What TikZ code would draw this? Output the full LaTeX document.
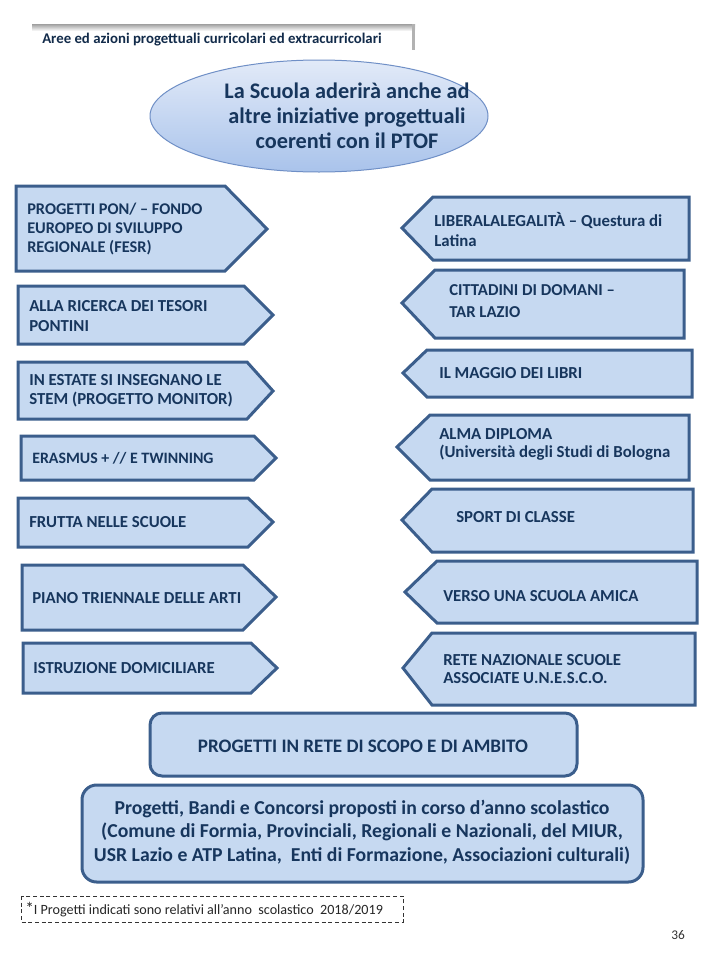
\documentclass[tikz,border=0pt]{standalone}
\usepackage{fontspec}
\setmainfont{Carlito}
\usetikzlibrary{shapes.geometric}
\definecolor{boxfill}{HTML}{C6D9F1}
\definecolor{boxline}{HTML}{3B5E8C}
\definecolor{txt}{HTML}{17365D}
\definecolor{ovtop}{HTML}{E2EAF8}
\definecolor{ovbot}{HTML}{A9C3EB}
\definecolor{ovline}{HTML}{6F8FC6}
\newcommand{\rpent}[6]{\draw[arrbox] (#1,#2) -- (#4,#2) -- (#5,#6) -- (#4,#3) -- (#1,#3) -- cycle;}
\newcommand{\lpent}[6]{\draw[arrbox] (#6,#4) -- (#3,#4) -- (#1,#2) -- (#3,#5) -- (#6,#5) -- cycle;}
\begin{document}
\begin{tikzpicture}[x=0.75pt,y=-0.75pt,
  arrbox/.style={fill=boxfill, draw=boxline, line width=2.25pt, line join=miter},
  rbox/.style={fill=boxfill, draw=boxline, line width=2.25pt, rounded corners=9pt},
  btxt/.style={font=\bfseries\fontsize{12.6}{14.5}\selectfont, text=txt, inner sep=0pt, align=left, anchor=west},
  ]
\useasboundingbox (0,0) rectangle (720,960);
\fill[white] (0,0) rectangle (720,960);
% header
\shade[top color=gray!75, bottom color=white] (32,24) rectangle (415,31);
\fill[gray!60] (412,24) rectangle (415,50);
\node[font=\bfseries\fontsize{11.1}{12}\selectfont, text=txt!80!black, anchor=west, inner sep=0pt] (head) at (42,40) {Aree ed azioni progettuali curricolari ed extracurricolari};
% oval
\node[ellipse, minimum width=253.5pt, minimum height=84pt, inner sep=0pt, draw=ovline, line width=0.75pt, top color=ovtop, bottom color=ovbot] (oval) at (319,116) {};
\node[font=\bfseries\fontsize{16.7}{18.75}\selectfont, text=txt, align=center, inner sep=0pt] (title) at (347,116) {La Scuola aderirà anche ad\\altre iniziative progettuali\\coerenti con il PTOF};
% left arrows
\rpent{16}{186}{271}{225}{267}{229}
\node[btxt, font=\bfseries\fontsize{12.25}{13.9}\selectfont] (l1) at (27,229) {PROGETTI PON/ – FONDO\\EUROPEO DI SVILUPPO\\REGIONALE (FESR)};
\rpent{18}{286}{344}{244}{273}{315}
\node[btxt, font=\bfseries\fontsize{12.6}{15}\selectfont] (l2) at (29,316) {ALLA RICERCA DEI TESORI\\PONTINI};
\rpent{18}{362}{419}{247}{273}{391}
\node[btxt] (l3) at (29,391) {IN ESTATE SI INSEGNANO LE\\STEM (PROGETTO MONITOR)};
\rpent{21}{436}{480}{254}{276}{458}
\node[btxt, font=\bfseries\fontsize{11.9}{14}\selectfont] (l4) at (32,458) {ERASMUS + // E TWINNING};
\rpent{18}{498}{547}{248}{273}{522}
\node[btxt] (l5) at (29,522) {FRUTTA NELLE SCUOLE};
\rpent{22}{565}{630}{243}{276}{597}
\node[btxt] (l6) at (32,598) {PIANO TRIENNALE DELLE ARTI};
\rpent{23}{643}{693}{251}{277}{668}
\node[btxt] (l7) at (33,668) {ISTRUZIONE DOMICILIARE};
% right arrows
\lpent{402}{228}{433}{197}{260}{689}
\node[btxt, font=\bfseries\fontsize{12.6}{15}\selectfont] (r1) at (434,230) {LIBERALALEGALITÀ – Questura di\\Latina};
\lpent{402}{303}{435}{270}{338}{684}
\node[btxt, font=\bfseries\fontsize{12.5}{16.5}\selectfont] (r2) at (449,301) {CITTADINI DI DOMANI –\\TAR LAZIO};
\lpent{403}{373}{427}{350}{397}{692}
\node[btxt] (r3) at (439,373) {IL MAGGIO DEI LIBRI};
\lpent{397}{447}{430}{415}{480}{689}
\node[btxt, font=\bfseries\fontsize{12.6}{13.5}\selectfont] (r4) at (439,444) {ALMA DIPLOMA\\(Università degli Studi di Bologna};
\lpent{402}{520}{432}{489}{552}{693}
\node[btxt] (r5) at (456,517) {SPORT DI CLASSE};
\lpent{405}{592}{437}{561}{623}{697}
\node[btxt] (r6) at (443,596) {VERSO UNA SCUOLA AMICA};
\lpent{403}{668}{432}{633}{705}{695}
\node[btxt, font=\bfseries\fontsize{12.6}{13.5}\selectfont] (r7) at (443,669) {RETE NAZIONALE SCUOLE\\ASSOCIATE U.N.E.S.C.O.};
% bottom boxes
\draw[rbox] (150,713) rectangle (577,776);
\node[font=\bfseries\fontsize{14.3}{15}\selectfont, text=txt, inner sep=0pt] (rete) at (363,746) {PROGETTI IN RETE DI SCOPO E DI AMBITO};
\draw[rbox, rounded corners=11pt] (82,785) rectangle (643,882);
\node[font=\bfseries\fontsize{14.8}{17.6}\selectfont, text=txt, inner sep=0pt, align=center] (bandi) at (362,832) {Progetti, Bandi e Concorsi proposti in corso d’anno scolastico\\(Comune di Formia, Provinciali, Regionali e Nazionali, del MIUR,\\USR Lazio e ATP Latina,\ \ Enti di Formazione, Associazioni culturali)};
% footnote
\draw[black!80, line width=0.75pt, dash pattern=on 3pt off 2pt] (21,896) rectangle (403,922);
\node[anchor=west, inner sep=0pt, text=black!85, font=\fontsize{10.6}{12}\selectfont] (note) at (25,910) {{\fontsize{13}{13}\selectfont *}I Progetti indicati sono relativi all’anno\ \ scolastico\ \ 2018/2019};
\node[inner sep=0pt, text=black!80, font=\fontsize{10}{12}\selectfont] (pnum) at (678,935) {36};
\end{tikzpicture}
\end{document}
